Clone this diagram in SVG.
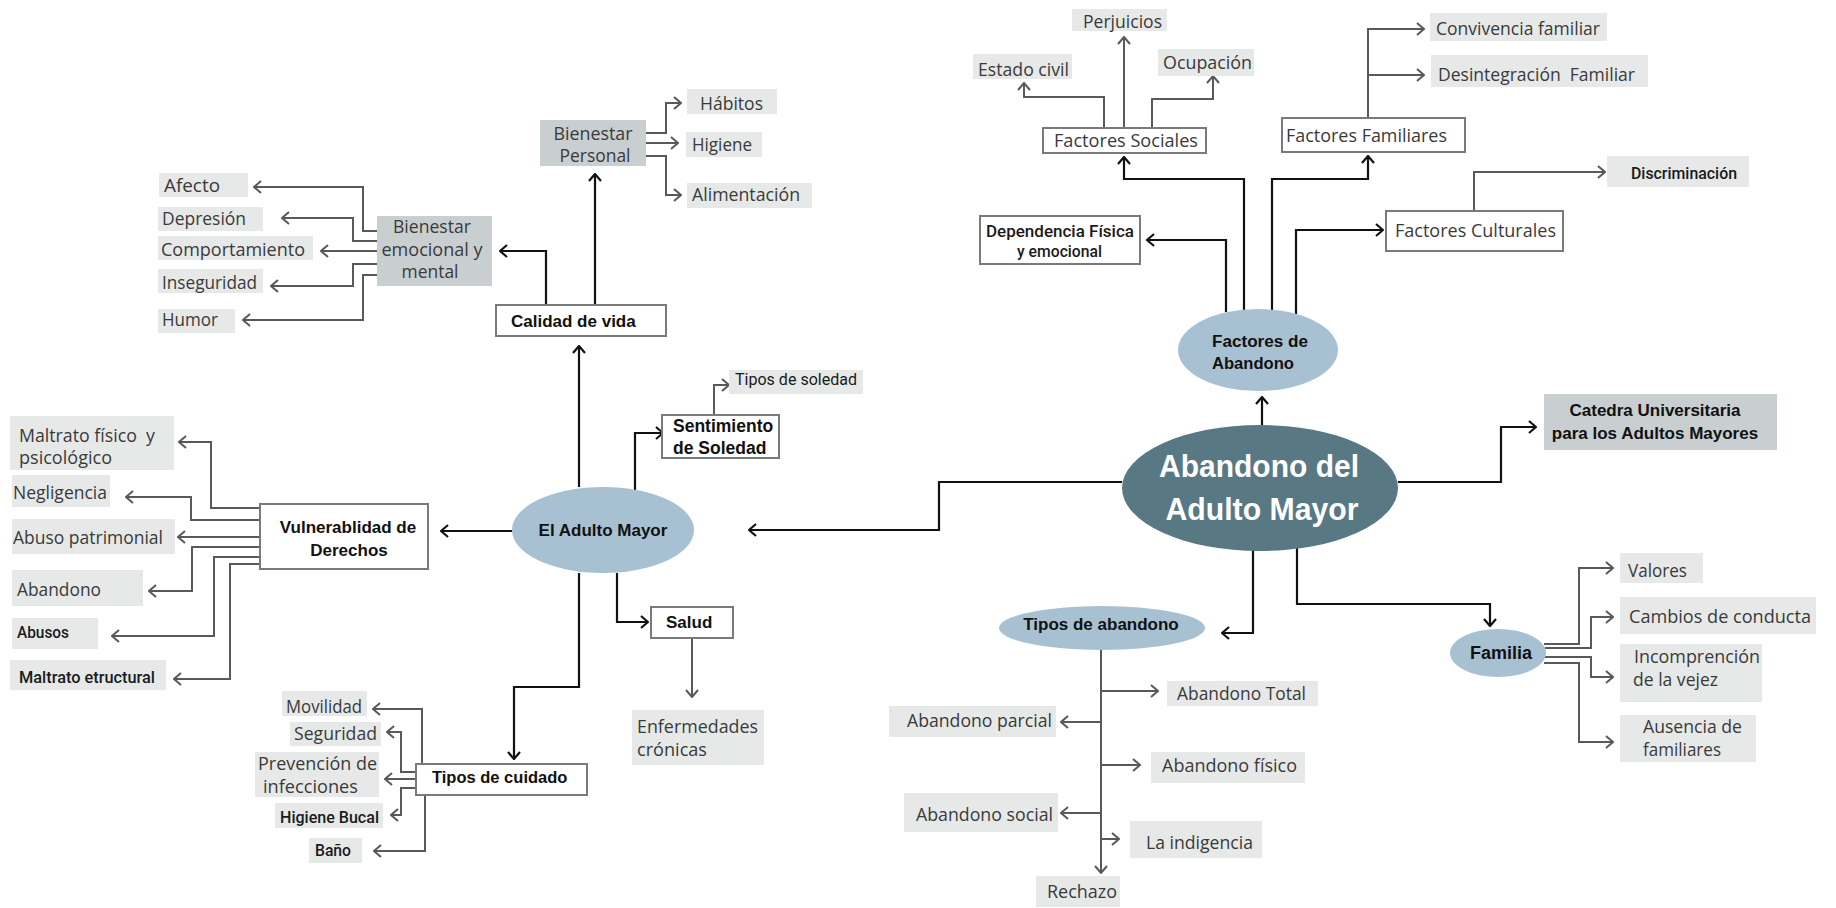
<svg xmlns="http://www.w3.org/2000/svg" width="1836" height="908" viewBox="0 0 1836 908">
<style>
.bx{fill:#fff;stroke:#7a7a7a;stroke-width:2}
.lt{fill:#e6e9e8}
.dk{fill:#c9ced0}
.el{fill:#a8c1d2}
.b{font-family:"Liberation Sans",Arial,sans-serif;font-weight:bold;font-size:17px;fill:#111}
.l{font-family:"Open Sans","Liberation Sans",sans-serif;font-size:17.5px;fill:#3a3a3a}
.c{font-family:Roboto,"Liberation Sans",sans-serif;font-weight:500;font-size:16px;fill:#1a1a1a}
.m{text-anchor:middle}
.k{fill:none;stroke:#111;stroke-width:2.2;marker-end:url(#ak)}
.g{fill:none;stroke:#595959;stroke-width:2;marker-end:url(#ag)}
</style>
<defs>
<marker id="ak" viewBox="0 0 10 14" refX="9" refY="7" markerWidth="10" markerHeight="14" markerUnits="userSpaceOnUse" orient="auto"><path d="M2,1 L9,7 L2,13" fill="none" stroke="#111" stroke-width="2.2"/></marker>
<marker id="ag" viewBox="0 0 10 14" refX="9" refY="7" markerWidth="10" markerHeight="14" markerUnits="userSpaceOnUse" orient="auto"><path d="M2,1 L9,7 L2,13" fill="none" stroke="#595959" stroke-width="2"/></marker>
</defs>
<rect width="1836" height="908" fill="#fff"/>

<g id="connectors">
<path class="k" d="M1122,482 H939 V530 H749"/>
<path class="k" d="M1398,482 H1501 V427 H1536"/>
<path class="k" d="M1262,425 V397"/>
<path class="k" d="M1253,550 V633 H1222"/>
<path class="k" d="M1297,548 V604 H1490 V626"/>
<path class="k" d="M1226,312 V240 H1147"/>
<path class="k" d="M1244,310 V179 H1124 V157"/>
<path class="k" d="M1272,310 V179 H1368 V156"/>
<path class="k" d="M1296,314 V230 H1383"/>
<path class="g" d="M1104,128 V97 H1024 V83"/>
<path class="g" d="M1124,128 V37"/>
<path class="g" d="M1152,128 V99 H1213 V76"/>
<path class="g" d="M1368,118 V29 H1424"/>
<path class="g" d="M1368,75 H1424"/>
<path class="g" d="M1474,211 V172 H1605"/>
<path class="g" d="M1101,649 V873"/>
<path class="g" d="M1101,691 H1158"/>
<path class="g" d="M1101,722 H1061"/>
<path class="g" d="M1101,765 H1140"/>
<path class="g" d="M1101,813 H1061"/>
<path class="g" d="M1101,839 H1119"/>
<path class="g" d="M1544,644 H1579 V568 H1613"/>
<path class="g" d="M1545,648 H1591 V617 H1613"/>
<path class="g" d="M1545,657 H1591 V677 H1613"/>
<path class="g" d="M1544,663 H1579 V742 H1613"/>
<path class="k" d="M579,487 V346"/>
<path class="k" d="M635,490 V433 H663"/>
<path class="k" d="M617,573 V622 H648"/>
<path class="k" d="M512,531 H441"/>
<path class="k" d="M579,573 V687 H514 V759"/>
<path class="g" d="M714,415 V385 H729"/>
<path class="g" d="M692,638 V697"/>
<path class="k" d="M595,305 V174"/>
<path class="k" d="M546,305 V251 H500"/>
<path class="g" d="M646,133 H666 V103 H681"/>
<path class="g" d="M646,143 H678"/>
<path class="g" d="M646,156 H666 V195 H681"/>
<path class="g" d="M377,231 H363 V187 H254"/>
<path class="g" d="M377,241 H353 V218 H282"/>
<path class="g" d="M377,251 H321"/>
<path class="g" d="M377,264 H353 V286 H271"/>
<path class="g" d="M377,275 H363 V320 H243"/>
<path class="g" d="M260,508 H211 V442 H179"/>
<path class="g" d="M260,520 H191 V497 H126"/>
<path class="g" d="M260,537 H178"/>
<path class="g" d="M260,547 H192 V591 H149"/>
<path class="g" d="M260,557 H214 V636 H112"/>
<path class="g" d="M260,564 H230 V679 H174"/>
<path class="g" d="M422,764 V709 H373"/>
<path class="g" d="M416,772 H401 V732 H387"/>
<path class="g" d="M416,779 H385"/>
<path class="g" d="M416,788 H401 V815 H391"/>
<path class="g" d="M425,795 V851 H374"/>
</g>

<g id="n-abandono-adulto-mayor">
<ellipse cx="1260" cy="488" rx="138" ry="63" fill="#587884"/>
<text class="b m" x="1259" y="477" style="font-size:32px;fill:#fff" textLength="200" lengthAdjust="spacingAndGlyphs">Abandono del</text>
<text class="b m" x="1262" y="520" style="font-size:32px;fill:#fff" textLength="193" lengthAdjust="spacingAndGlyphs">Adulto Mayor</text>
</g>

<g id="n-factores-abandono">
<ellipse class="el" cx="1258" cy="350" rx="80" ry="41"/>
<text class="b" x="1212" y="347" style="font-size:16px" textLength="96" lengthAdjust="spacingAndGlyphs">Factores de</text>
<text class="b" x="1212" y="369" style="font-size:16px" textLength="82" lengthAdjust="spacingAndGlyphs">Abandono</text>
</g>
<g id="n-catedra">
<rect class="dk" x="1544" y="394" width="233" height="56"/>
<text class="b m" x="1655" y="416">Catedra Universitaria</text>
<text class="b m" x="1655" y="439">para los Adultos Mayores</text>
</g>
<g id="n-dependencia">
<rect class="bx" x="980" y="216" width="160" height="48"/>
<text class="c" x="986" y="237" style="font-size:16px" textLength="148" lengthAdjust="spacingAndGlyphs">Dependencia Física</text>
<text class="c" x="1017" y="257" style="font-size:16px" textLength="85" lengthAdjust="spacingAndGlyphs">y emocional</text>
</g>
<g id="n-factores-sociales">
<rect class="bx" x="1043" y="128" width="163" height="25"/>
<text class="l" x="1054" y="147" textLength="144" lengthAdjust="spacingAndGlyphs">Factores Sociales</text>
</g>
<g id="n-estado-civil"><rect class="lt" x="973" y="54" width="99" height="25"/><text class="l" x="978" y="76" textLength="91" lengthAdjust="spacingAndGlyphs">Estado civil</text></g>
<g id="n-perjuicios"><rect class="lt" x="1072" y="9" width="95" height="22"/><text class="l" x="1083" y="28" textLength="79" lengthAdjust="spacingAndGlyphs">Perjuicios</text></g>
<g id="n-ocupacion"><rect class="lt" x="1158" y="49" width="96" height="27"/><text class="l" x="1163" y="69" textLength="89" lengthAdjust="spacingAndGlyphs">Ocupación</text></g>
<g id="n-factores-familiares">
<rect class="bx" x="1282" y="118" width="183" height="34"/>
<text class="l" x="1286" y="142" textLength="161" lengthAdjust="spacingAndGlyphs">Factores Familiares</text>
</g>
<g id="n-convivencia"><rect class="lt" x="1430" y="13" width="177" height="28"/><text class="l" x="1436" y="35" textLength="164" lengthAdjust="spacingAndGlyphs">Convivencia familiar</text></g>
<g id="n-desintegracion"><rect class="lt" x="1431" y="55" width="217" height="32"/><text class="l" x="1438" y="81" xml:space="preserve" textLength="197" lengthAdjust="spacingAndGlyphs">Desintegración  Familiar</text></g>
<g id="n-factores-culturales">
<rect class="bx" x="1386" y="211" width="177" height="40"/>
<text class="l" x="1395" y="237" textLength="161" lengthAdjust="spacingAndGlyphs">Factores Culturales</text>
</g>
<g id="n-discriminacion"><rect class="lt" x="1607" y="156" width="142" height="31"/><text class="c" x="1631" y="179" textLength="106" lengthAdjust="spacingAndGlyphs">Discriminación</text></g>

<g id="n-tipos-abandono">
<ellipse class="el" cx="1102" cy="628" rx="103" ry="22"/>
<text class="b m" x="1101" y="630">Tipos de abandono</text>
</g>
<g id="n-abandono-total"><rect class="lt" x="1167" y="681" width="151" height="25"/><text class="l" x="1177" y="700" textLength="129" lengthAdjust="spacingAndGlyphs">Abandono Total</text></g>
<g id="n-abandono-parcial"><rect class="lt" x="889" y="706" width="167" height="31"/><text class="l" x="907" y="727" textLength="145" lengthAdjust="spacingAndGlyphs">Abandono parcial</text></g>
<g id="n-abandono-fisico"><rect class="lt" x="1151" y="752" width="154" height="31"/><text class="l" x="1162" y="772" textLength="135" lengthAdjust="spacingAndGlyphs">Abandono físico</text></g>
<g id="n-abandono-social"><rect class="lt" x="904" y="793" width="154" height="39"/><text class="l" x="916" y="821" textLength="137" lengthAdjust="spacingAndGlyphs">Abandono social</text></g>
<g id="n-indigencia"><rect class="lt" x="1130" y="821" width="132" height="37"/><text class="l" x="1146" y="849" textLength="107" lengthAdjust="spacingAndGlyphs">La indigencia</text></g>
<g id="n-rechazo"><rect class="lt" x="1036" y="876" width="84" height="31"/><text class="l" x="1047" y="898" textLength="70" lengthAdjust="spacingAndGlyphs">Rechazo</text></g>

<g id="n-familia">
<ellipse class="el" cx="1498" cy="653" rx="48" ry="24"/>
<text class="b" x="1470" y="659" style="font-size:18px">Familia</text>
</g>
<g id="n-valores"><rect class="lt" x="1620" y="553" width="83" height="30"/><text class="l" x="1628" y="577" textLength="59" lengthAdjust="spacingAndGlyphs">Valores</text></g>
<g id="n-cambios"><rect class="lt" x="1620" y="597" width="196" height="37"/><text class="l" x="1629" y="623" textLength="182" lengthAdjust="spacingAndGlyphs">Cambios de conducta</text></g>
<g id="n-incomprencion"><rect class="lt" x="1620" y="644" width="142" height="58"/><text class="l" x="1634" y="663" textLength="126" lengthAdjust="spacingAndGlyphs">Incomprención</text><text class="l" x="1633" y="686" textLength="85" lengthAdjust="spacingAndGlyphs">de la vejez</text></g>
<g id="n-ausencia"><rect class="lt" x="1620" y="715" width="136" height="47"/><text class="l" x="1643" y="733" textLength="99" lengthAdjust="spacingAndGlyphs">Ausencia de</text><text class="l" x="1643" y="756" textLength="78" lengthAdjust="spacingAndGlyphs">familiares</text></g>

<g id="n-el-adulto-mayor">
<ellipse class="el" cx="603" cy="530" rx="91" ry="43"/>
<text class="b m" x="603" y="536">El Adulto Mayor</text>
</g>
<g id="n-calidad-vida">
<rect class="bx" x="496" y="305" width="170" height="31"/>
<text class="b" x="511" y="327">Calidad de vida</text>
</g>
<g id="n-bienestar-personal">
<rect class="dk" x="540" y="120" width="106" height="46"/>
<text class="l m" x="593" y="140" textLength="79" lengthAdjust="spacingAndGlyphs">Bienestar</text>
<text class="l m" x="595" y="162" textLength="71" lengthAdjust="spacingAndGlyphs">Personal</text>
</g>
<g id="n-habitos"><rect class="lt" x="687" y="89" width="90" height="25"/><text class="l" x="700" y="110" textLength="63" lengthAdjust="spacingAndGlyphs">Hábitos</text></g>
<g id="n-higiene"><rect class="lt" x="686" y="132" width="76" height="25"/><text class="l" x="692" y="151" textLength="60" lengthAdjust="spacingAndGlyphs">Higiene</text></g>
<g id="n-alimentacion"><rect class="lt" x="687" y="183" width="125" height="25"/><text class="l" x="692" y="201" textLength="108" lengthAdjust="spacingAndGlyphs">Alimentación</text></g>
<g id="n-bienestar-emocional">
<rect class="dk" x="377" y="216" width="115" height="70"/>
<text class="l m" x="432" y="233" textLength="78" lengthAdjust="spacingAndGlyphs">Bienestar</text>
<text class="l m" x="432" y="256" textLength="101" lengthAdjust="spacingAndGlyphs">emocional y</text>
<text class="l m" x="430" y="278" textLength="57" lengthAdjust="spacingAndGlyphs">mental</text>
</g>
<g id="n-afecto"><rect class="lt" x="159" y="173" width="89" height="24"/><text class="l" x="164" y="192" textLength="56" lengthAdjust="spacingAndGlyphs">Afecto</text></g>
<g id="n-depresion"><rect class="lt" x="158" y="207" width="105" height="24"/><text class="l" x="162" y="225" textLength="84" lengthAdjust="spacingAndGlyphs">Depresión</text></g>
<g id="n-comportamiento"><rect class="lt" x="158" y="236" width="155" height="24"/><text class="l" x="161" y="256" textLength="144" lengthAdjust="spacingAndGlyphs">Comportamiento</text></g>
<g id="n-inseguridad"><rect class="lt" x="158" y="269" width="105" height="24"/><text class="l" x="162" y="289" textLength="95" lengthAdjust="spacingAndGlyphs">Inseguridad</text></g>
<g id="n-humor"><rect class="lt" x="158" y="309" width="77" height="24"/><text class="l" x="162" y="326" textLength="56" lengthAdjust="spacingAndGlyphs">Humor</text></g>

<g id="n-sentimiento">
<rect class="bx" x="662" y="415" width="117" height="43"/>
<text class="b" x="673" y="432" style="font-size:17.5px">Sentimiento</text>
<text class="b" x="673" y="454" style="font-size:17.5px">de Soledad</text>
</g>
<g id="n-tipos-soledad"><rect class="lt" x="729" y="370" width="134" height="24"/><text class="c" x="735" y="385" style="font-weight:normal" textLength="122" lengthAdjust="spacingAndGlyphs">Tipos de soledad</text></g>
<g id="n-salud">
<rect class="bx" x="651" y="607" width="82" height="31"/>
<text class="b" x="666" y="628">Salud</text>
</g>
<g id="n-enfermedades"><rect class="lt" x="632" y="710" width="132" height="55"/><text class="l" x="637" y="733" textLength="121" lengthAdjust="spacingAndGlyphs">Enfermedades</text><text class="l" x="637" y="756" textLength="70" lengthAdjust="spacingAndGlyphs">crónicas</text></g>

<g id="n-vulnerabilidad">
<rect class="bx" x="260" y="504" width="168" height="65"/>
<text class="b m" x="348" y="533">Vulnerablidad de</text>
<text class="b m" x="349" y="556">Derechos</text>
</g>
<g id="n-maltrato-fisico"><rect class="lt" x="10" y="416" width="164" height="54"/><text class="l" x="19" y="442" xml:space="preserve" textLength="136" lengthAdjust="spacingAndGlyphs">Maltrato físico  y</text><text class="l" x="19" y="464" textLength="93" lengthAdjust="spacingAndGlyphs">psicológico</text></g>
<g id="n-negligencia"><rect class="lt" x="12" y="475" width="98" height="32"/><text class="l" x="13" y="499" textLength="94" lengthAdjust="spacingAndGlyphs">Negligencia</text></g>
<g id="n-abuso-patrimonial"><rect class="lt" x="12" y="519" width="163" height="35"/><text class="l" x="13" y="544" textLength="150" lengthAdjust="spacingAndGlyphs">Abuso patrimonial</text></g>
<g id="n-abandono"><rect class="lt" x="12" y="570" width="131" height="36"/><text class="l" x="17" y="596" textLength="84" lengthAdjust="spacingAndGlyphs">Abandono</text></g>
<g id="n-abusos"><rect class="lt" x="12" y="618" width="86" height="31"/><text class="c" x="17" y="638" textLength="52" lengthAdjust="spacingAndGlyphs">Abusos</text></g>
<g id="n-maltrato-estructural"><rect class="lt" x="10" y="660" width="156" height="30"/><text class="c" x="19" y="683" textLength="136" lengthAdjust="spacingAndGlyphs">Maltrato etructural</text></g>

<g id="n-tipos-cuidado">
<rect class="bx" x="416" y="764" width="171" height="31"/>
<text class="b" x="432" y="783" style="font-size:16.5px">Tipos de cuidado</text>
</g>
<g id="n-movilidad"><rect class="lt" x="282" y="691" width="85" height="25"/><text class="l" x="286" y="713" textLength="76" lengthAdjust="spacingAndGlyphs">Movilidad</text></g>
<g id="n-seguridad"><rect class="lt" x="290" y="722" width="91" height="24"/><text class="l" x="294" y="740" textLength="83" lengthAdjust="spacingAndGlyphs">Seguridad</text></g>
<g id="n-prevencion"><rect class="lt" x="255" y="752" width="124" height="45"/><text class="l" x="258" y="770" textLength="119" lengthAdjust="spacingAndGlyphs">Prevención de</text><text class="l" x="263" y="793" textLength="95" lengthAdjust="spacingAndGlyphs">infecciones</text></g>
<g id="n-higiene-bucal"><rect class="lt" x="275" y="803" width="108" height="25"/><text class="c" x="280" y="823" style="font-size:17px" textLength="99" lengthAdjust="spacingAndGlyphs">Higiene Bucal</text></g>
<g id="n-bano"><rect class="lt" x="309" y="838" width="53" height="25"/><text class="c" x="315" y="856" style="font-size:17px" textLength="36" lengthAdjust="spacingAndGlyphs">Baño</text></g>
</svg>
